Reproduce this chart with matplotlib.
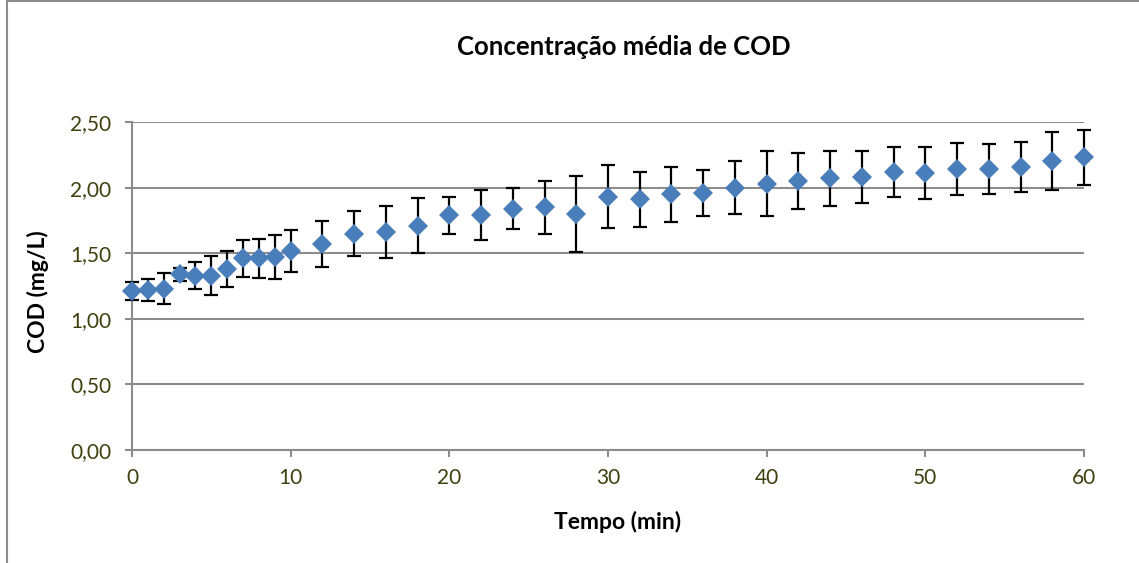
import numpy as np
import matplotlib
matplotlib.use("Agg")
import matplotlib.pyplot as plt
from matplotlib.patches import Rectangle

# COD mean concentration over time, with standard deviation
tempo = [0, 1, 2, 3, 4, 5, 6, 7, 8, 9, 10,
         12, 14, 16, 18, 20, 22, 24, 26, 28, 30,
         32, 34, 36, 38, 40, 42, 44, 46, 48, 50,
         52, 54, 56, 58, 60]
cod = [1.21, 1.22, 1.23, 1.34, 1.33, 1.33, 1.38, 1.46, 1.46, 1.47, 1.52,
       1.57, 1.65, 1.66, 1.71, 1.79, 1.79, 1.84, 1.85, 1.80, 1.93,
       1.91, 1.95, 1.96, 2.00, 2.03, 2.05, 2.07, 2.08, 2.12, 2.11,
       2.14, 2.14, 2.16, 2.20, 2.23]
desvio = [0.07, 0.085, 0.12, 0.05, 0.10, 0.145, 0.14, 0.14, 0.15, 0.17, 0.16,
          0.175, 0.17, 0.20, 0.21, 0.14, 0.19, 0.155, 0.20, 0.29, 0.24,
          0.21, 0.21, 0.175, 0.205, 0.25, 0.21, 0.21, 0.20, 0.19, 0.20,
          0.20, 0.19, 0.19, 0.22, 0.21]

yticks = [0.0, 0.5, 1.0, 1.5, 2.0, 2.5]
ytick_labels = ["0,00", "0,50", "1,00", "1,50", "2,00", "2,50"]
xticks = [0, 10, 20, 30, 40, 50, 60]

text_color = "#40400f"
grid_color = "#8c8c8c"
font = "Lato"
W, H = 1139, 563

fig = plt.figure(figsize=(W / 100, H / 100), dpi=100)
ax = fig.add_axes([132 / W, 1 - 450 / H, (1084 - 132) / W, (450 - 122) / H])

# error bars underneath, diamonds on top
eb = ax.errorbar(tempo, cod, yerr=desvio, fmt="none", ecolor="black",
                 elinewidth=1.6, capsize=5, capthick=1.6, zorder=3)
for art in eb.lines[1] + eb.lines[2]:
    art.set_clip_on(False)
ax.plot(tempo, cod, linestyle="none", marker="D", markersize=10.5,
        color="#4a7ebb", markeredgewidth=0, zorder=4, clip_on=False)

ax.set_xlim(0, 60)
ax.set_ylim(0, 2.5)
ax.set_xticks(xticks)
ax.set_xticklabels([str(t) for t in xticks], fontsize=15, color=text_color, family=font)
ax.set_yticks(yticks)
ax.set_yticklabels(ytick_labels, fontsize=15, color=text_color, family=font)
ax.tick_params(axis="both", direction="out", length=5, width=1.5, color=grid_color)
ax.tick_params(axis="y", pad=10)
ax.tick_params(axis="x", pad=8)

ax.grid(axis="y", color=grid_color, linewidth=1.5)
ax.set_axisbelow(True)
for side in ["top", "right"]:
    ax.spines[side].set_visible(False)
for side in ["left", "bottom"]:
    ax.spines[side].set_color(grid_color)
    ax.spines[side].set_linewidth(1.5)

fig.text(618 / W, 1 - 522 / H, "Tempo (min)", ha="center", va="center",
         fontsize=16.5, fontweight="bold", family=font)
fig.text(38 / W, 1 - 292 / H, "COD (mg/L)", ha="center", va="center", rotation=90,
         fontsize=16.5, fontweight="bold", family=font)
fig.text(624 / W, 1 - 47 / H, "Concentração média de COD", ha="center", va="center",
         fontsize=18.5, fontweight="bold", family=font)

# chart frame
fig.patches.append(Rectangle((7 / W, -0.05), 1.1, 1 - 1.5 / H + 0.05,
                             transform=fig.transFigure, fill=False,
                             edgecolor=grid_color, linewidth=1.5))

fig.savefig("out.png", dpi=100)
